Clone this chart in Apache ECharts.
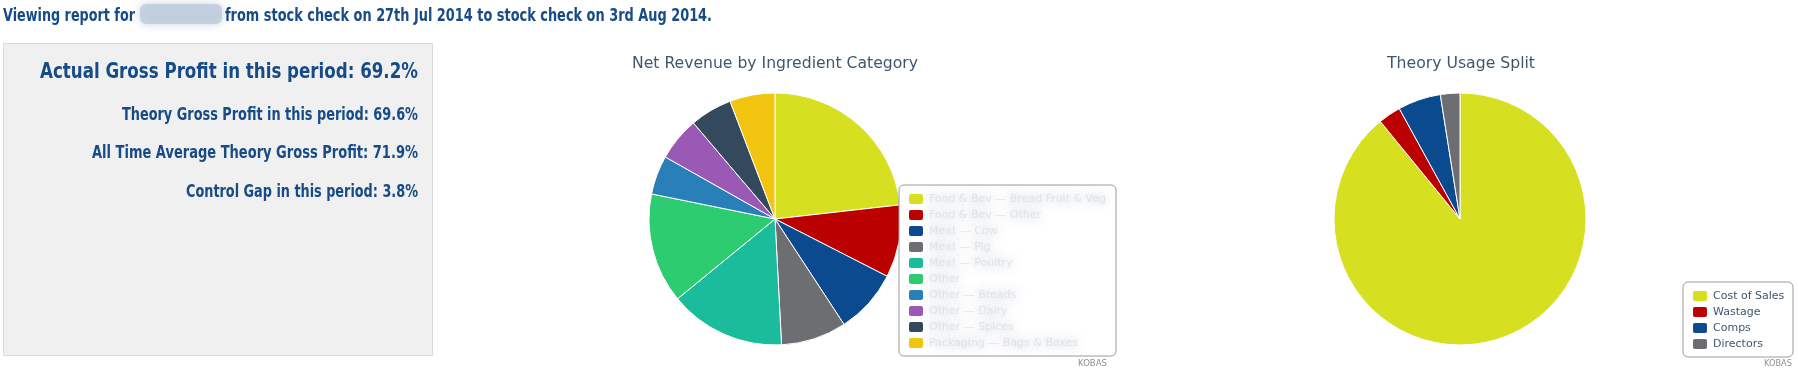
<!DOCTYPE html>
<html>
<head>
<meta charset="utf-8">
<script src="https://cdn.jsdelivr.net/npm/echarts@6/dist/echarts.min.js"></script>
<style>
html,body{margin:0;padding:0;background:#fff;}
#chart{width:1798px;height:373px;}
</style>
</head>
<body>
<div id="chart"></div>
<script>
// ---- data ----
const headerBefore = "Viewing report for";
const headerAfter = "from stock check on 27th Jul 2014 to stock check on 3rd Aug 2014.";
const summaryLines = [
  "Actual Gross Profit in this period: 69.2%",
  "Theory Gross Profit in this period: 69.6%",
  "All Time Average Theory Gross Profit: 71.9%",
  "Control Gap in this period: 3.8%"
];
const revenueTitle = "Net Revenue by Ingredient Category";
const revenueCategories = [
  "Food & Bev — Bread Fruit & Veg",
  "Food & Bev — Other",
  "Meat — Cow",
  "Meat — Pig",
  "Meat — Poultry",
  "Other",
  "Other — Breads",
  "Other — Dairy",
  "Other — Spices",
  "Packaging — Bags & Boxes"
];
const revenueValues = [23.2, 9.3, 8.25, 8.4, 14.9, 14.1, 5.0, 5.6, 5.4, 5.8];
const usageTitle = "Theory Usage Split";
const usageCategories = ["Cost of Sales", "Wastage", "Comps", "Directors"];
const usageValues = [89.1, 2.9, 5.5, 2.5];
const creditText = "KOBAS";

// ---- styles ----
const palette = ['#d7df21', '#bb0000', '#0b4a8e', '#6d6e71', '#1abc9c', '#2ecc71', '#2980b9', '#9b59b6', '#34495e', '#f1c40f'];
const blue = '#174b87';
const slate = '#3e576f';
const dinFamily = '"Liberation Sans Narrow", "DejaVu Sans Condensed", "Liberation Sans", sans-serif';
const titleFamily = '"DejaVu Sans", Verdana, sans-serif';

const mctx = document.createElement('canvas').getContext('2d');
function fitScale(text, weight, size, family, target) {
  mctx.font = weight + ' ' + size + 'px ' + family;
  const w = mctx.measureText(text).width;
  return w > 0 ? target / w : 1;
}
function txt(text, x, y, size, weight, family, color, align, targetWidth) {
  return {
    type: 'text', x: x, y: y,
    scaleX: targetWidth ? fitScale(text, weight, size, family, targetWidth) : 1,
    style: { text: text, fontSize: size, fontWeight: weight, fontFamily: family, fill: color, align: align, verticalAlign: 'middle' },
    silent: true
  };
}

const chart = echarts.init(document.getElementById('chart'), null, { renderer: 'canvas' });

const graphics = [
  // header
  txt(headerBefore, 3, 16.5, 17.5, 'bold', dinFamily, blue, 'left', 132),
  { type: 'rect', shape: { x: 140, y: 4, width: 82, height: 20, r: 6 },
    style: { fill: 'rgba(192,204,220,0.85)', shadowBlur: 8, shadowColor: 'rgba(192,204,220,1)' }, silent: true },
  txt(headerAfter, 225, 16.5, 17.5, 'bold', dinFamily, blue, 'left', 487),
  // left panel
  { type: 'rect', shape: { x: 3.5, y: 43.5, width: 429, height: 312 },
    style: { fill: '#f0f0f0', stroke: '#d9d9d9', lineWidth: 1 }, silent: true },
  txt(summaryLines[0], 418, 72.5, 22, 'bold', dinFamily, blue, 'right', 378),
  txt(summaryLines[1], 418, 115, 17.5, 'bold', dinFamily, blue, 'right', 296),
  txt(summaryLines[2], 418, 153, 17.5, 'bold', dinFamily, blue, 'right', 326),
  txt(summaryLines[3], 418, 192, 17.5, 'bold', dinFamily, blue, 'right', 232),
  // titles
  txt(revenueTitle, 775, 64, 16, 'normal', titleFamily, slate, 'center', 286),
  txt(usageTitle, 1461, 64, 16, 'normal', titleFamily, slate, 'center', 148),
  // credits
  txt(creditText, 1107, 364, 9, 'normal', titleFamily, '#909090', 'right', 29),
  txt(creditText, 1792, 364, 9, 'normal', titleFamily, '#909090', 'right', 28)
];

chart.setOption({
  animation: false,
  backgroundColor: '#ffffff',
  graphic: graphics,
  legend: [
    {
      data: revenueCategories,
      orient: 'vertical',
      left: 899, top: 185,
      padding: [7, 8, 6, 8],
      itemWidth: 16, itemHeight: 12, itemGap: 2,
      icon: 'roundRect',
      borderColor: '#9a9a9a', borderWidth: 1, borderRadius: 5,
      backgroundColor: '#ffffff',
      selectedMode: false,
      textStyle: {
        fontSize: 11, lineHeight: 12, width: 179, overflow: 'truncate', ellipsis: '', fontFamily: titleFamily,
        color: 'rgba(205,212,224,0.55)',
        textShadowColor: 'rgba(130,145,170,1)', textShadowBlur: 10
      }
    },
    {
      data: usageCategories,
      orient: 'vertical',
      left: 1683, top: 282,
      padding: [7, 8, 6, 8],
      itemWidth: 16, itemHeight: 12, itemGap: 2,
      icon: 'roundRect',
      borderColor: '#9a9a9a', borderWidth: 1, borderRadius: 5,
      backgroundColor: '#ffffff',
      selectedMode: false,
      textStyle: { fontSize: 11, lineHeight: 12, width: 72, fontFamily: titleFamily, color: slate }
    }
  ],
  series: [
    {
      type: 'pie', name: revenueTitle,
      center: [775, 219], radius: 126,
      startAngle: 90, clockwise: true,
      label: { show: false }, labelLine: { show: false },
      emphasis: { disabled: true },
      itemStyle: { borderColor: '#ffffff', borderWidth: 1 },
      data: revenueCategories.map((n, i) => ({ name: n, value: revenueValues[i], itemStyle: { color: palette[i] } }))
    },
    {
      type: 'pie', name: usageTitle,
      center: [1460, 219], radius: 126,
      startAngle: 90, clockwise: true,
      label: { show: false }, labelLine: { show: false },
      emphasis: { disabled: true },
      itemStyle: { borderColor: '#ffffff', borderWidth: 1 },
      data: usageCategories.map((n, i) => ({ name: n, value: usageValues[i], itemStyle: { color: palette[i] } }))
    }
  ]
});
</script>
</body>
</html>
